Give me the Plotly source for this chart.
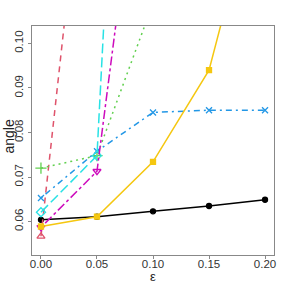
import plotly.graph_objects as go

eps = [0.00, 0.05, 0.10, 0.15, 0.20]
s_black = [0.0604, 0.0611, 0.0623, 0.0635, 0.0649]
s_red = [0.0567, 0.171, None, None, None]
s_green = [0.0720, 0.0748, 0.109, None, None]
s_blue = [0.0653, 0.0758, 0.0845, 0.0850, 0.0850]
s_cyan = [0.0621, 0.0748, 0.317, None, None]
s_magenta = [0.0587, 0.0713, 0.169, None, None]
s_yellow = [0.0589, 0.0611, 0.0734, 0.0940, 0.142]

series = [
    (s_black, "#000000", "solid", "circle", 5),
    (s_red, "#DF536B", "6px,5px", "triangle-up-open", 7),
    (s_green, "#61D04F", "2px,4px", "cross-thin-open", 8),
    (s_blue, "#2297E6", "2px,4px,6px,4px", "x-thin-open", 6),
    (s_cyan, "#28E2E5", "10px,4px", "diamond-open", 7),
    (s_magenta, "#CD0BBC", "3px,3px,9px,3px", "triangle-down-open", 7),
    (s_yellow, "#F5C710", "solid", "square", 5),
]

fig = go.Figure()
for ys, col, dash, sym, size in series:
    fig.add_trace(go.Scatter(
        x=eps, y=ys, mode="lines+markers",
        line=dict(color=col, width=1.5, dash=dash),
        marker=dict(symbol=sym, size=size, color=col,
                    line=dict(color=col, width=1.3)),
        connectgaps=False, showlegend=False, cliponaxis=True,
    ))

axis_common = dict(
    showgrid=False, zeroline=False, showline=True, mirror=True,
    linecolor="#888888", linewidth=1, ticks="outside", ticklen=3,
    tickcolor="#888888", tickwidth=1,
    tickfont=dict(family="Liberation Sans, Arial", size=11.5, color="#333333"),
)

fig.update_layout(
    width=288, height=288,
    margin=dict(l=32, r=14, t=26, b=33),
    paper_bgcolor="white", plot_bgcolor="white",
    xaxis=dict(range=[-0.008, 0.208], tickvals=[0, 0.05, 0.10, 0.15, 0.20],
               tickformat=".2f", ticklabelstandoff=-5, **axis_common),
    yaxis=dict(range=[0.0525, 0.1039], tickvals=[0.06, 0.07, 0.08, 0.09, 0.10],
               tickformat=".2f", tickangle=-90, **axis_common),
    annotations=[
        dict(text="ε", x=0.5, y=0, xref="paper", yref="paper",
             xanchor="center", yanchor="middle", yshift=-21, showarrow=False,
             font=dict(family="Liberation Sans, Arial", size=13, color="#222222")),
        dict(text="angle", x=0, y=0.5, xref="paper", yref="paper",
             xanchor="center", yanchor="middle", xshift=-24, yshift=4,
             textangle=-90, showarrow=False,
             font=dict(family="Liberation Sans, Arial", size=14, color="#222222")),
    ],
)

fig.write_html("out.html", config={"displayModeBar": False},
               post_script="document.body.style.margin='0';")
